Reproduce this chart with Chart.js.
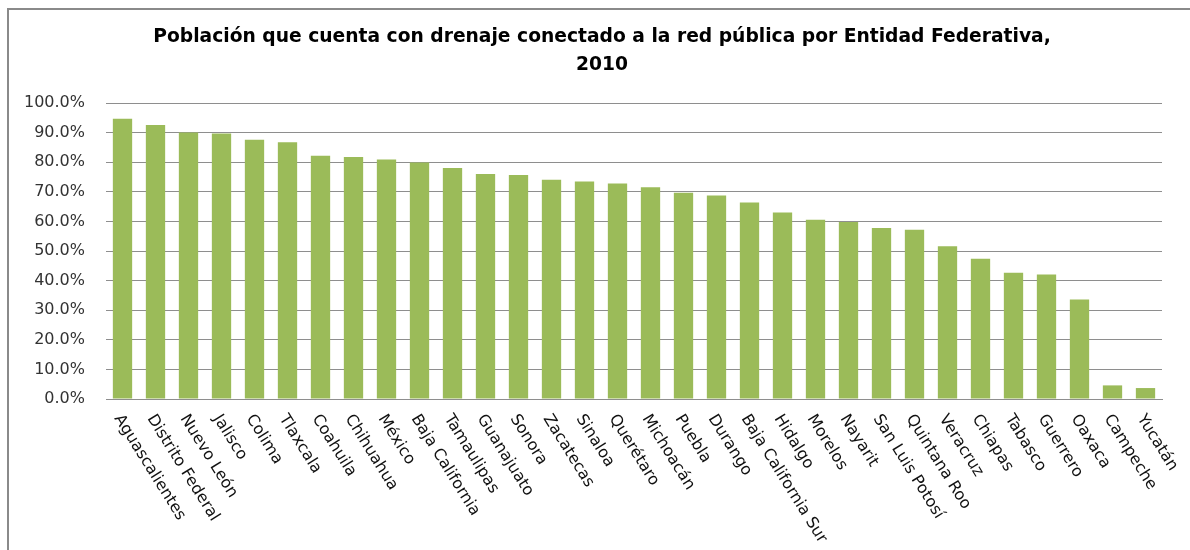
<!DOCTYPE html>
<html>
<head>
<meta charset="utf-8">
<script src="https://cdn.jsdelivr.net/npm/chart.js@4/dist/chart.umd.min.js"></script>
<style>
  html, body { margin: 0; padding: 0; background: #fff; }
  #wrap { width: 1190px; height: 550px; }
</style>
</head>
<body>
<div id="wrap"><canvas id="drenaje"></canvas></div>
<script>
// datos
const entidades = ['Aguascalientes', 'Distrito Federal', 'Nuevo León', 'Jalisco', 'Colima', 'Tlaxcala',
   'Coahuila', 'Chihuahua', 'México', 'Baja California', 'Tamaulipas', 'Guanajuato', 'Sonora',
   'Zacatecas', 'Sinaloa', 'Querétaro', 'Michoacán', 'Puebla', 'Durango', 'Baja California Sur',
   'Hidalgo', 'Morelos', 'Nayarit', 'San Luis Potosí', 'Quintana Roo', 'Veracruz', 'Chiapas',
   'Tabasco', 'Guerrero', 'Oaxaca', 'Campeche', 'Yucatán'];
const porcentaje = [94.7, 92.6, 90.1, 89.7, 87.6, 86.8, 82.2, 81.8, 80.9, 79.9, 78.1, 76.0, 75.7,
   74.1, 73.5, 72.8, 71.6, 69.7, 68.8, 66.4, 63.0, 60.6, 59.8, 57.8, 57.2, 51.6, 47.4,
   42.7, 42.1, 33.6, 4.6, 3.7];
const titulo = ['Población que cuenta con drenaje conectado a la red pública por Entidad Federativa,', '2010'];
const yMin = 0, yMax = 100, yPaso = 10;

// marco gris alrededor de la grafica
const marco = {
   id: 'marco',
   beforeDraw(chart) {
      const ctx = chart.ctx;
      ctx.save();
      ctx.fillStyle = '#fff';
      ctx.fillRect(0, 0, chart.width, chart.height);
      ctx.strokeStyle = '#8a8a8a';
      ctx.lineWidth = 2;
      ctx.strokeRect(8, 9, chart.width + 20, chart.height + 20);
      ctx.restore();
   }
};

// etiquetas del eje x giradas hacia abajo a la derecha
const etiquetasX = {
   id: 'etiquetasX',
   afterDraw(chart) {
      const ctx = chart.ctx;
      const x = chart.scales.x;
      ctx.save();
      ctx.font = '16px "DejaVu Sans"';
      ctx.fillStyle = '#111';
      ctx.textAlign = 'left';
      ctx.textBaseline = 'middle';
      chart.data.labels.forEach((lab, i) => {
         ctx.save();
         ctx.translate(x.getPixelForValue(i) - 5, x.top + 17);
         ctx.rotate(58 * Math.PI / 180);
         ctx.fillText(lab, 0, 0);
         ctx.restore();
      });
      ctx.restore();
   }
};

const chart = new Chart(document.getElementById('drenaje'), {
   type: 'bar',
   data: {
      labels: entidades,
      datasets: [{
         data: porcentaje,
         backgroundColor: '#9bbb59',
         borderWidth: 0,
         barPercentage: 0.585,
         categoryPercentage: 1
      }]
   },
   options: {
      responsive: true,
      maintainAspectRatio: false,
      animation: false,
      layout: {
         padding: { left: 14, right: 0, top: 9, bottom: 0 }
      },
      plugins: {
         legend: { display: false },
         tooltip: { enabled: false },
         title: {
            display: true,
            text: titulo,
            color: '#000',
            font: { family: 'DejaVu Sans', size: 18.7, weight: 'bold', lineHeight: 1.5 },
            padding: { top: 14, bottom: 24 }
         }
      },
      scales: {
         x: {
            grid: { display: false },
            border: { display: true, color: '#8e8e8e', width: 1 },
            ticks: { display: false },
            afterFit(scale) { scale.height = 151; }
         },
         y: {
            min: yMin,
            max: yMax,
            grid: { color: '#8e8e8e', lineWidth: 1, drawTicks: false },
            border: { display: false },
            ticks: {
               stepSize: yPaso,
               padding: 21,
               color: '#333',
               font: { family: 'DejaVu Sans', size: 16 },
               callback: v => v.toFixed(1) + '%'
            },
            afterFit(scale) { scale.width = 92; }
         },
         // eje vacio a la derecha, solo deja el margen
         margen: {
            type: 'linear',
            position: 'right',
            grid: { display: false },
            border: { display: false },
            ticks: { display: false },
            afterFit(scale) { scale.width = 28; }
         }
      }
   },
   plugins: [marco, etiquetasX]
});
</script>
</body>
</html>
